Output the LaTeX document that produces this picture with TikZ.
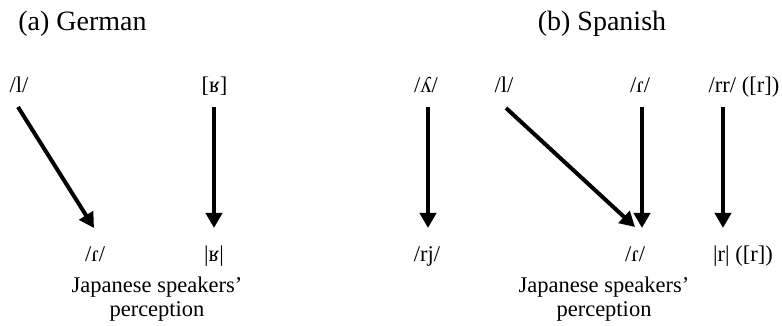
\documentclass[tikz,border=0pt]{standalone}
\usepackage{fontspec}
\setmainfont{Liberation Serif}
\usetikzlibrary{arrows.meta}
\begin{document}
\begin{tikzpicture}[x=1pt,y=1pt,
  lbl/.style={inner sep=0pt, anchor=base, font=\fontsize{22.5}{25}\selectfont},
  ttl/.style={inner sep=0pt, anchor=base, font=\fontsize{28}{32}\selectfont},
  note/.style={inner sep=0pt, anchor=center, align=center, font=\fontsize{22.5}{23.5}\selectfont},
  arr/.style={line width=4pt, -{Triangle[width=16pt,length=15pt]}}]
\useasboundingbox (0,0) rectangle (782,326);
% titles
\node[ttl] (ta) at (82.5,295.5) {(a) German};
\node[ttl] (tb) at (602,295.5) {(b) Spanish};
% German
\node[lbl] (gl) at (19,233) {/l/};
\node[lbl] (gR) at (214.5,233) {[ʁ]};
\node[lbl] (gr) at (95,64) {/ɾ/};
\node[lbl] (gRb) at (214,64) {|ʁ|};
\node[note] (gj) at (157,27) {Japanese speakers’\\perception};
\draw[arr] ([xshift=-1pt,yshift=-14pt]gl.base) -- ([xshift=-1pt,yshift=34pt]gr.base);
\draw[arr] ([xshift=-0.5pt,yshift=-14pt]gR.base) -- ([yshift=34pt]gRb.base);
% Spanish
\node[lbl] (sL) at (426,233) {/ʎ/};
\node[lbl] (sl) at (504,233) {/l/};
\node[lbl] (sr) at (640,233) {/ɾ/};
\node[lbl] (srr) at (744,233) {/rr/ ([r])};
\node[lbl] (brj) at (427,64) {/rj/};
\node[lbl] (br) at (635,64) {/ɾ/};
\node[lbl] (brr) at (743,64) {|r| ([r])};
\node[note] (sj) at (604,27) {Japanese speakers’\\perception};
\draw[arr] ([xshift=2pt,yshift=-14pt]sL.base) -- ([xshift=1pt,yshift=34pt]brj.base);
\draw[arr] ([xshift=2pt,yshift=-15pt]sl.base) -- ([yshift=35pt]br.base);
\draw[arr] ([xshift=2pt,yshift=-14pt]sr.base) -- ([xshift=7pt,yshift=34pt]br.base);
\draw[arr] ([xshift=-21pt,yshift=-14pt]srr.base) -- ([xshift=-20pt,yshift=34pt]brr.base);
\end{tikzpicture}
\end{document}
